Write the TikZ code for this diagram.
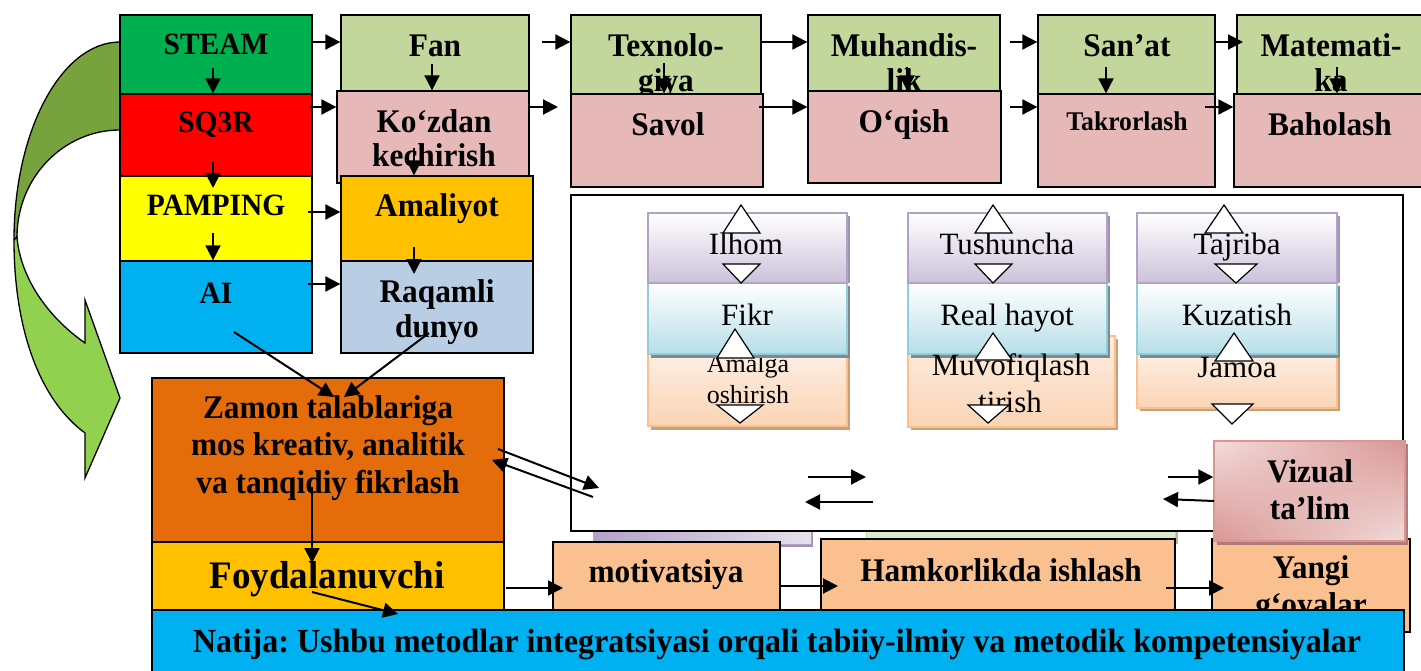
\documentclass[tikz,border=0pt]{standalone}
\usepackage{fontspec}
\setmainfont{Liberation Serif}
\newfontfamily\hb{Liberation Serif}[FakeStretch=0.95]
\usetikzlibrary{arrows.meta,fit,shadings}
\frenchspacing

\definecolor{cSteam}{HTML}{00B050}
\definecolor{cRed}{HTML}{FF0000}
\definecolor{cYellow}{HTML}{FFFF00}
\definecolor{cCyan}{HTML}{00B0F0}
\definecolor{cOlive}{HTML}{C3D69B}
\definecolor{cRose}{HTML}{E6B9B8}
\definecolor{cAmber}{HTML}{FFC000}
\definecolor{cSteel}{HTML}{B9CDE5}
\definecolor{cOrange}{HTML}{E46C0A}
\definecolor{cPeach}{HTML}{FAC090}
\definecolor{cGreenDark}{HTML}{77A33E}
\definecolor{cGreenLight}{HTML}{92D050}
\definecolor{cLavBot}{HTML}{CCC1DA}
\definecolor{cLavEdge}{HTML}{B3A2C7}
\definecolor{cLavShadow}{HTML}{A093B8}
\definecolor{cAquaBot}{HTML}{B7DEE8}
\definecolor{cAquaEdge}{HTML}{92CDDC}
\definecolor{cAquaShadow}{HTML}{7C8C8E}
\definecolor{cApriTop}{HTML}{FDEEE2}
\definecolor{cApriBot}{HTML}{FBD4B4}
\definecolor{cApriEdge}{HTML}{FAC090}
\definecolor{cApriShadow}{HTML}{C8A07C}
\definecolor{cPinkLight}{HTML}{F2DCDB}
\definecolor{cPinkDark}{HTML}{D99694}
\definecolor{cPinkShadow}{HTML}{B07C79}
\definecolor{cLeaf}{HTML}{D7E4BD}
\definecolor{cLeafEdge}{HTML}{C3D69B}

% rectangle node spanning two corners
\newcommand\bx[6]{\node[#2,inner sep=0pt,fit={(#3,#4)(#5,#6)}] (#1) {};}
% one line of text, placed by its baseline
\newcommand\tl[5]{\node[#2] (#1) at (#3,#4) {#5};}

\begin{document}
\begin{tikzpicture}[x=1pt,y=-1pt,
  box/.style={draw=black,line width=1.3pt},
  btxt/.style={font=\hb\bfseries\fontsize{33}{36}\selectfont,inner sep=0pt,anchor=base},
  rtxt/.style={font=\fontsize{31}{34}\selectfont,inner sep=0pt,anchor=base},
  arr/.style={line width=2pt,-{Triangle[length=15pt,width=15pt]}},
  tri/.style={draw=black,fill=white,line width=1.2pt,line join=miter},
  lavbox/.style={draw=cLavEdge,line width=1.5pt,top color=white,bottom color=cLavBot},
  aquabox/.style={draw=cAquaEdge,line width=1.5pt,top color=white,bottom color=cAquaBot},
  apribox/.style={draw=cApriEdge,line width=1.5pt,top color=cApriTop,bottom color=cApriBot}]
\useasboundingbox (0,0) rectangle (1421,671);

% curved block arrow on the left
\filldraw[fill=cGreenDark,draw=black,line width=1.3pt,line join=round]
  (120,42) .. controls (61.5,42) and (14,130.6) .. (14,240) -- (17,237)
  .. controls (17,177.9) and (63.1,130) .. (120,130) -- cycle;
\filldraw[fill=cGreenLight,draw=black,line width=1.3pt,line join=miter]
  (14,240) .. controls (14,330) and (40,400) .. (85,433) -- (85,478) -- (120,398)
  -- (85,300) -- (85,343) .. controls (45,315) and (20,275) .. (17,237) -- cycle;

% method column
\bx{steam}{box,fill=cSteam}{120}{15}{312}{94}
\bx{sqr}{box,fill=cRed}{120}{94}{312}{176}
\bx{pamp}{box,fill=cYellow}{120}{176}{312}{261}
\bx{ai}{box,fill=cCyan}{120}{261}{312}{353}
\tl{steamT}{btxt,font=\hb\bfseries\fontsize{31}{34}\selectfont}{216}{55}{STEAM}
\tl{sqrT}{btxt,font=\hb\bfseries\fontsize{31}{34}\selectfont}{216}{133}{SQ3R}
\tl{pampT}{btxt,font=\hb\bfseries\fontsize{31}{34}\selectfont}{216}{215}{PAMPING}
\tl{aiT}{btxt,font=\hb\bfseries\fontsize{31}{34}\selectfont}{216}{303}{AI}

% second column
\bx{fan}{box,fill=cOlive}{341}{15}{529}{91}
\tl{fanT}{btxt}{435}{57}{Fan}
\bx{koz}{box,fill=cRose}{337}{91}{529}{183}
\tl{kozT1}{btxt}{434}{133}{Ko‘zdan}
\tl{kozT2}{btxt}{434}{167}{kechirish}
\bx{ama}{box,fill=cAmber}{341}{176}{533}{261}
\tl{amaT}{btxt}{437}{217}{Amaliyot}
\bx{raq}{box,fill=cSteel}{341}{261}{533}{353}
\tl{raqT1}{btxt}{437}{302}{Raqamli}
\tl{raqT2}{btxt}{437}{337}{dunyo}

% STEAM and SQ3R rows
\bx{tex}{box,fill=cOlive}{571}{15}{761}{94}
\tl{texT1}{btxt}{666}{57}{Texnolo-}
\tl{texT2}{btxt}{666}{92}{giya}
\bx{sav}{box,fill=cRose}{571}{94}{763}{187}
\tl{savT}{btxt}{668}{136}{Savol}
\bx{muh}{box,fill=cOlive}{808}{15}{1000}{91}
\tl{muhT1}{btxt}{904}{57}{Muhandis-}
\tl{muhT2}{btxt}{904}{92}{lik}
\bx{oqi}{box,fill=cRose}{808}{91}{1001}{183}
\tl{oqiT}{btxt}{904}{133}{O‘qish}
\bx{san}{box,fill=cOlive}{1038}{15}{1215}{94}
\tl{sanT}{btxt}{1127}{57}{San’at}
\bx{tak}{box,fill=cRose}{1038}{94}{1215}{187}
\tl{takT}{btxt,font=\hb\bfseries\fontsize{27}{30}\selectfont}{1127}{131}{Takrorlash}
\bx{mat}{box,fill=cOlive}{1237}{15}{1430}{94}
\tl{matT1}{btxt}{1331}{57}{Matemati-}
\tl{matT2}{btxt}{1331}{92}{ka}
\bx{bah}{box,fill=cRose}{1234}{94}{1430}{187}
\tl{bahT}{btxt}{1330}{136}{Baholash}

% boxes peeking out below the panel
\fill[cLavShadow] (596,523) rectangle (813,547);
\bx{lavstrip}{draw=cLavEdge,line width=1pt,left color=cLavEdge,right color=cLavBot!50!white}{593}{520}{811}{544}
\fill[cLeafEdge!70!gray] (869,523) rectangle (1178,544);
\bx{leafstrip}{draw=cLeafEdge,line width=1pt,top color=cLeaf!40!white,bottom color=cLeaf}{866}{520}{1175}{541}

% panel
\bx{panel}{box,fill=white}{571}{195}{1403}{531}

% first stack
\fill[cApriShadow] (651,357) rectangle (850,430);
\bx{aml}{apribox}{648}{354}{847}{426}
\tl{amlT1}{rtxt,font=\fontsize{26}{28}\selectfont}{748}{372}{Amalga}
\tl{amlT2}{rtxt,font=\fontsize{26}{28}\selectfont}{748}{403}{oshirish}
\fill[cAquaShadow] (651,286) rectangle (850,358);
\bx{fik}{aquabox}{648}{283}{847}{354}
\tl{fikT}{rtxt}{747}{325}{Fikr}
\fill[cLavShadow] (651,216) rectangle (850,283);
\bx{ilh}{lavbox}{648}{213}{847}{283}
\tl{ilhT}{rtxt}{746}{254}{Ilhom}

% second stack
\fill[cApriShadow] (911,339) rectangle (1118,430);
\bx{muv}{apribox}{908}{336}{1115}{427}
\fill[cAquaShadow] (911,286) rectangle (1110,358);
\bx{rea}{aquabox}{908}{283}{1107}{354}
\tl{reaT}{rtxt}{1007}{325}{Real hayot}
\tl{muvT1}{rtxt}{1011}{375}{Muvofiqlash}
\tl{muvT2}{rtxt}{1010}{412}{tirish}
\fill[cLavShadow] (911,216) rectangle (1110,283);
\bx{tus}{lavbox}{908}{213}{1107}{283}
\tl{tusT}{rtxt}{1007}{254}{Tushuncha}

% third stack
\fill[cApriShadow] (1140,357) rectangle (1340,411);
\bx{jam}{apribox}{1137}{354}{1337}{408}
\fill[cAquaShadow] (1140,286) rectangle (1340,358);
\bx{kuz}{aquabox}{1137}{283}{1337}{354}
\tl{kuzT}{rtxt}{1237}{325}{Kuzatish}
\tl{jamT}{rtxt}{1237}{377}{Jamoa}
\fill[cLavShadow] (1140,216) rectangle (1340,283);
\bx{taj}{lavbox}{1137}{213}{1337}{283}
\tl{tajT}{rtxt}{1237}{254}{Tajriba}

% up and down markers
\draw[tri] (741,205) -- (760,233) -- (723,233) -- cycle;
\draw[tri] (723,264) -- (760,264) -- (741,283) -- cycle;
\draw[tri] (735,329) -- (754,358) -- (717,358) -- cycle;
\draw[tri] (717,405) -- (763,405) -- (740,423) -- cycle;
\draw[tri] (993,205) -- (1012,233) -- (975,233) -- cycle;
\draw[tri] (975,264) -- (1012,264) -- (993,283) -- cycle;
\draw[tri] (993,333) -- (1012,360) -- (975,360) -- cycle;
\draw[tri] (968,405) -- (1009,405) -- (988,423) -- cycle;
\draw[tri] (1224,205) -- (1243,233) -- (1205,233) -- cycle;
\draw[tri] (1215,264) -- (1257,264) -- (1236,283) -- cycle;
\draw[tri] (1234,333) -- (1253,361) -- (1215,361) -- cycle;
\draw[tri] (1212,404) -- (1253,404) -- (1232,424) -- cycle;

% outcome boxes
\bx{zam}{box,fill=cOrange}{152}{378}{504}{542}
\tl{zamT1}{btxt}{328}{418}{Zamon talablariga}
\tl{zamT2}{btxt}{328}{455}{mos kreativ, analitik}
\tl{zamT3}{btxt}{328}{493}{va tanqidiy fikrlash}
\bx{foy}{box,fill=cAmber}{152}{542}{504}{610}
\tl{foyT}{btxt,font=\hb\bfseries\fontsize{39}{42}\selectfont}{327}{588}{Foydalanuvchi}
\bx{mot}{box,fill=cPeach}{553}{542}{780}{625}
\tl{motT}{btxt}{666}{582}{motivatsiya}
\bx{ham}{box,fill=cPeach}{821}{539}{1175}{625}
\tl{hamT}{btxt}{1001}{581}{Hamkorlikda ishlash}
\bx{yan}{box,fill=cPeach}{1212}{539}{1410}{632}
\tl{yanT1}{btxt}{1311}{578}{Yangi}
\tl{yanT2}{btxt}{1311}{615}{g‘oyalar}

% visual learning card
\fill[cPinkShadow] (1217,444) rectangle (1408,545);
\bx{viz}{draw=cPinkDark,line width=1.5pt,upper left=cPinkLight,upper right=cPinkDark,lower left=cPinkDark,lower right=cPinkLight}{1214}{441}{1405}{541}
\tl{vizT1}{btxt}{1310}{482}{Vizual}
\tl{vizT2}{btxt}{1310}{519}{ta’lim}

% result bar
\bx{nat}{box,fill=cCyan}{152}{610}{1404}{690}
\tl{natT}{btxt,font=\hb\bfseries\fontsize{33.7}{36}\selectfont}{777}{652}{Natija: Ushbu metodlar integratsiyasi orqali tabiiy-ilmiy va metodik kompetensiyalar}

% connectors
\coordinate (a1) at (313,42);   \draw[arr] (a1) -- (fan.west |- a1);
\coordinate (a2) at (542,42);   \draw[arr] (a2) -- (tex.west |- a2);
\coordinate (a3) at (762,42);   \draw[arr] (a3) -- (muh.west |- a3);
\coordinate (a4) at (1010,42);  \draw[arr] (a4) -- (san.west |- a4);
\coordinate (a5) at (1215,42);  \coordinate (b5) at (1243,42); \draw[arr] (a5) -- (b5);
\coordinate (a6) at (309,107);  \draw[arr] (a6) -- (koz.west |- a6);
\coordinate (a7) at (530,107);  \coordinate (b7) at (558,107); \draw[arr] (a7) -- (b7);
\coordinate (a8) at (759,107);  \draw[arr] (a8) -- (oqi.west |- a8);
\coordinate (a9) at (1010,107); \draw[arr] (a9) -- (tak.west |- a9);
\coordinate (a10) at (1205,107); \draw[arr] (a10) -- (bah.west |- a10);
\coordinate (a11) at (308,212); \draw[arr] (a11) -- (ama.west |- a11);
\coordinate (a12) at (308,284); \draw[arr] (a12) -- (raq.west |- a12);
\coordinate (a13) at (213,68);  \draw[arr] (a13) -- (sqr.north -| a13);
\coordinate (a14) at (213,162); \coordinate (b14) at (213,188); \draw[arr] (a14) -- (b14);
\coordinate (a15) at (213,233); \draw[arr] (a15) -- (ai.north -| a15);
\coordinate (a16) at (432,64);  \draw[arr] (a16) -- (koz.north -| a16);
\coordinate (a17) at (414,148); \draw[arr] (a17) -- (ama.north -| a17);
\coordinate (a18) at (414,247); \coordinate (b18) at (414,274); \draw[arr] (a18) -- (b18);
\coordinate (a19) at (664,63);  \draw[arr] (a19) -- (sav.north -| a19);
\coordinate (a20) at (907,67);  \draw[arr] (a20) -- (oqi.north -| a20);
\coordinate (a21) at (1106,67); \draw[arr] (a21) -- (tak.north -| a21);
\coordinate (a22) at (1337,67); \draw[arr] (a22) -- (bah.north -| a22);
\coordinate (a23) at (234,332); \coordinate (b23) at (334,397); \draw[arr] (a23) -- (b23);
\coordinate (a24) at (429,333); \coordinate (b24) at (344,397); \draw[arr] (a24) -- (b24);
\coordinate (a25) at (312,487); \coordinate (b25) at (312,563); \draw[arr] (a25) -- (b25);
\coordinate (a26) at (312,592); \coordinate (b26) at (398,614); \draw[arr] (a26) -- (b26);
\coordinate (a27) at (498,449); \coordinate (b27) at (599,488); \draw[arr] (a27) -- (b27);
\coordinate (a28) at (593,497); \coordinate (b28) at (492,460); \draw[arr] (a28) -- (b28);
\coordinate (a29) at (506,588); \coordinate (b29) at (563,588); \draw[arr] (a29) -- (b29);
\coordinate (a30) at (780,586); \coordinate (b30) at (838,586); \draw[arr] (a30) -- (b30);
\coordinate (a31) at (1166,588); \coordinate (b31) at (1224,588); \draw[arr] (a31) -- (b31);
\coordinate (a32) at (808,477); \coordinate (b32) at (866,477); \draw[arr] (a32) -- (b32);
\coordinate (a33) at (873,502); \coordinate (b33) at (805,502); \draw[arr] (a33) -- (b33);
\coordinate (a34) at (1168,477); \draw[arr] (a34) -- (viz.west |- a34);
\coordinate (a35) at (1214,501); \coordinate (b35) at (1163,499); \draw[arr] (a35) -- (b35);
\end{tikzpicture}
\end{document}
